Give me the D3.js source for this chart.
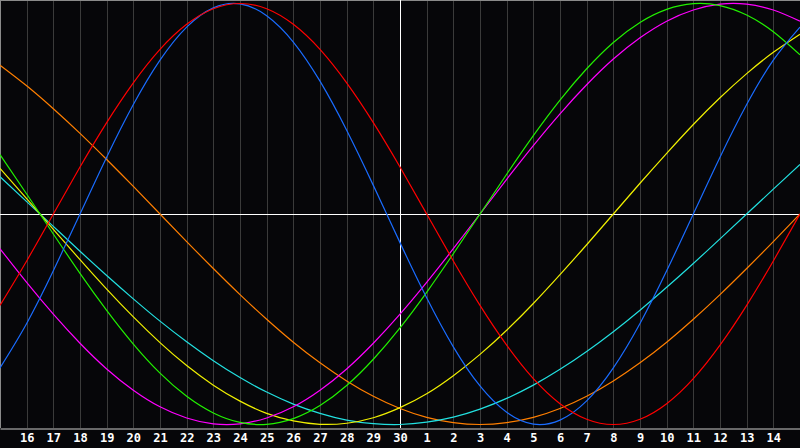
<!DOCTYPE html>
<html>
<head>
<meta charset="utf-8">
<script src="https://cdn.jsdelivr.net/npm/d3@7"></script>
<style>
  html, body { margin: 0; padding: 0; background: #060609; }
  svg { display: block; }
</style>
</head>
<body>
<script>
var width = 800;
var height = 448;

// day index 0..30, today at index 15
var days = d3.range(0, 31);
var dayLabels = [16, 17, 18, 19, 20, 21, 22, 23, 24, 25, 26, 27, 28, 29, 30,
                 1, 2, 3, 4, 5, 6, 7, 8, 9, 10, 11, 12, 13, 14];

// values, one per day gridline
var red = [-0.434, -0.223, 0, 0.223, 0.434, 0.623, 0.782, 0.901, 0.975, 1, 0.975,
  0.901, 0.782, 0.623, 0.434, 0.223, 0, -0.223, -0.434, -0.623, -0.782,
  -0.901, -0.975, -1, -0.975, -0.901, -0.782, -0.623, -0.434, -0.223, 0];
var blue = [-0.731, -0.520, -0.270, 0, 0.270, 0.520, 0.731, 0.888, 0.979, 0.998, 0.942,
  0.817, 0.631, 0.398, 0.136, -0.136, -0.398, -0.631, -0.817, -0.942, -0.998,
  -0.979, -0.888, -0.731, -0.520, -0.270, 0, 0.270, 0.520, 0.731, 0.888];
var green = [0.282, 0.095, -0.095, -0.282, -0.458, -0.618, -0.756, -0.866, -0.945, -0.990, -0.999,
  -0.972, -0.910, -0.815, -0.690, -0.541, -0.372, -0.189, 0, 0.189, 0.372,
  0.541, 0.690, 0.815, 0.910, 0.972, 0.999, 0.990, 0.945, 0.866, 0.756];
var magenta = [-0.165, -0.325, -0.476, -0.614, -0.736, -0.837, -0.916, -0.969, -0.997, -0.997, -0.969,
  -0.916, -0.837, -0.736, -0.614, -0.476, -0.325, -0.165, 0, 0.165, 0.325,
  0.476, 0.614, 0.736, 0.837, 0.916, 0.969, 0.997, 0.997, 0.969, 0.916];
var yellow = [0.217, 0.073, -0.073, -0.217, -0.357, -0.489, -0.611, -0.720, -0.813, -0.889, -0.947,
  -0.983, -0.999, -0.994, -0.968, -0.920, -0.854, -0.768, -0.667, -0.552, -0.425,
  -0.288, -0.146, 0, 0.146, 0.288, 0.425, 0.552, 0.667, 0.768, 0.854];
var cyan = [0.177, 0.059, -0.059, -0.177, -0.292, -0.403, -0.509, -0.607, -0.697, -0.777, -0.846,
  -0.903, -0.947, -0.979, -0.996, -1.000, -0.989, -0.965, -0.927, -0.876, -0.813,
  -0.738, -0.653, -0.559, -0.457, -0.348, -0.235, -0.118, 0, 0.118, 0.235];
var orange = [0.707, 0.609, 0.5, 0.383, 0.259, 0.131, 0, -0.131, -0.259, -0.383, -0.5,
  -0.609, -0.707, -0.793, -0.866, -0.924, -0.966, -0.991, -1, -0.991, -0.966,
  -0.924, -0.866, -0.793, -0.707, -0.609, -0.5, -0.383, -0.259, -0.131, 0];

var series = [
  { name: "orange", color: "#ff7f00", values: orange },
  { name: "cyan", color: "#22e0e0", values: cyan },
  { name: "yellow", color: "#f0f000", values: yellow },
  { name: "magenta", color: "#ff00ff", values: magenta },
  { name: "green", color: "#22f000", values: green },
  { name: "blue", color: "#1a6cff", values: blue },
  { name: "red", color: "#ff0000", values: red }
];

var x = d3.scaleLinear().domain([0, 30]).range([0, 800]);
var y = d3.scaleLinear().domain([-1, 1]).range([424.5, 3.5]);
var axisY = 428;

var svg = d3.select("body").append("svg")
    .attr("width", width)
    .attr("height", height);

svg.append("rect")
    .attr("width", width)
    .attr("height", height)
    .attr("fill", "#060609");

// day gridlines
svg.append("g")
    .attr("shape-rendering", "crispEdges")
    .selectAll("line")
    .data(d3.range(1, 30))
    .enter().append("line")
    .attr("x1", function(d) { return Math.round(x(d)) + 0.5; })
    .attr("x2", function(d) { return Math.round(x(d)) + 0.5; })
    .attr("y1", 0)
    .attr("y2", axisY)
    .attr("stroke", "#3a3a3a")
    .attr("stroke-width", 1);

// frame top / left
svg.append("line")
    .attr("x1", 0).attr("x2", width).attr("y1", 0.5).attr("y2", 0.5)
    .attr("stroke", "#8a8a8a");
svg.append("line")
    .attr("x1", 0.5).attr("x2", 0.5).attr("y1", 0).attr("y2", axisY)
    .attr("stroke", "#8a8a8a");

// zero line and today line
svg.append("line")
    .attr("x1", 0).attr("x2", width)
    .attr("y1", Math.round(y(0)) + 0.5).attr("y2", Math.round(y(0)) + 0.5)
    .attr("stroke", "#ffffff");
svg.append("line")
    .attr("x1", Math.round(x(15)) + 0.5).attr("x2", Math.round(x(15)) + 0.5)
    .attr("y1", 0).attr("y2", axisY)
    .attr("stroke", "#ffffff");

var line = d3.line()
    .x(function(d, i) { return x(days[i]); })
    .y(function(d) { return y(d); })
    .curve(d3.curveNatural);

svg.append("g")
    .selectAll("path")
    .data(series)
    .enter().append("path")
    .attr("d", function(d) { return line(d.values); })
    .attr("fill", "none")
    .attr("stroke", function(d) { return d.color; })
    .attr("stroke-width", 1.2);

// bottom axis
var xAxis = d3.axisBottom(x)
    .tickValues(d3.range(1, 30))
    .tickFormat(function(d) { return dayLabels[d - 1]; })
    .tickSize(0)
    .tickPadding(5);

var ax = svg.append("g")
    .attr("transform", "translate(0," + (axisY + 0.5) + ")")
    .call(xAxis);

ax.select(".domain")
    .attr("stroke", "#8a8a8a")
    .attr("stroke-width", 1.5);

ax.selectAll("text")
    .attr("fill", "#ffffff")
    .attr("font-family", "'DejaVu Sans Mono', monospace")
    .attr("font-weight", "bold")
    .attr("font-size", "12px");
</script>
</body>
</html>
